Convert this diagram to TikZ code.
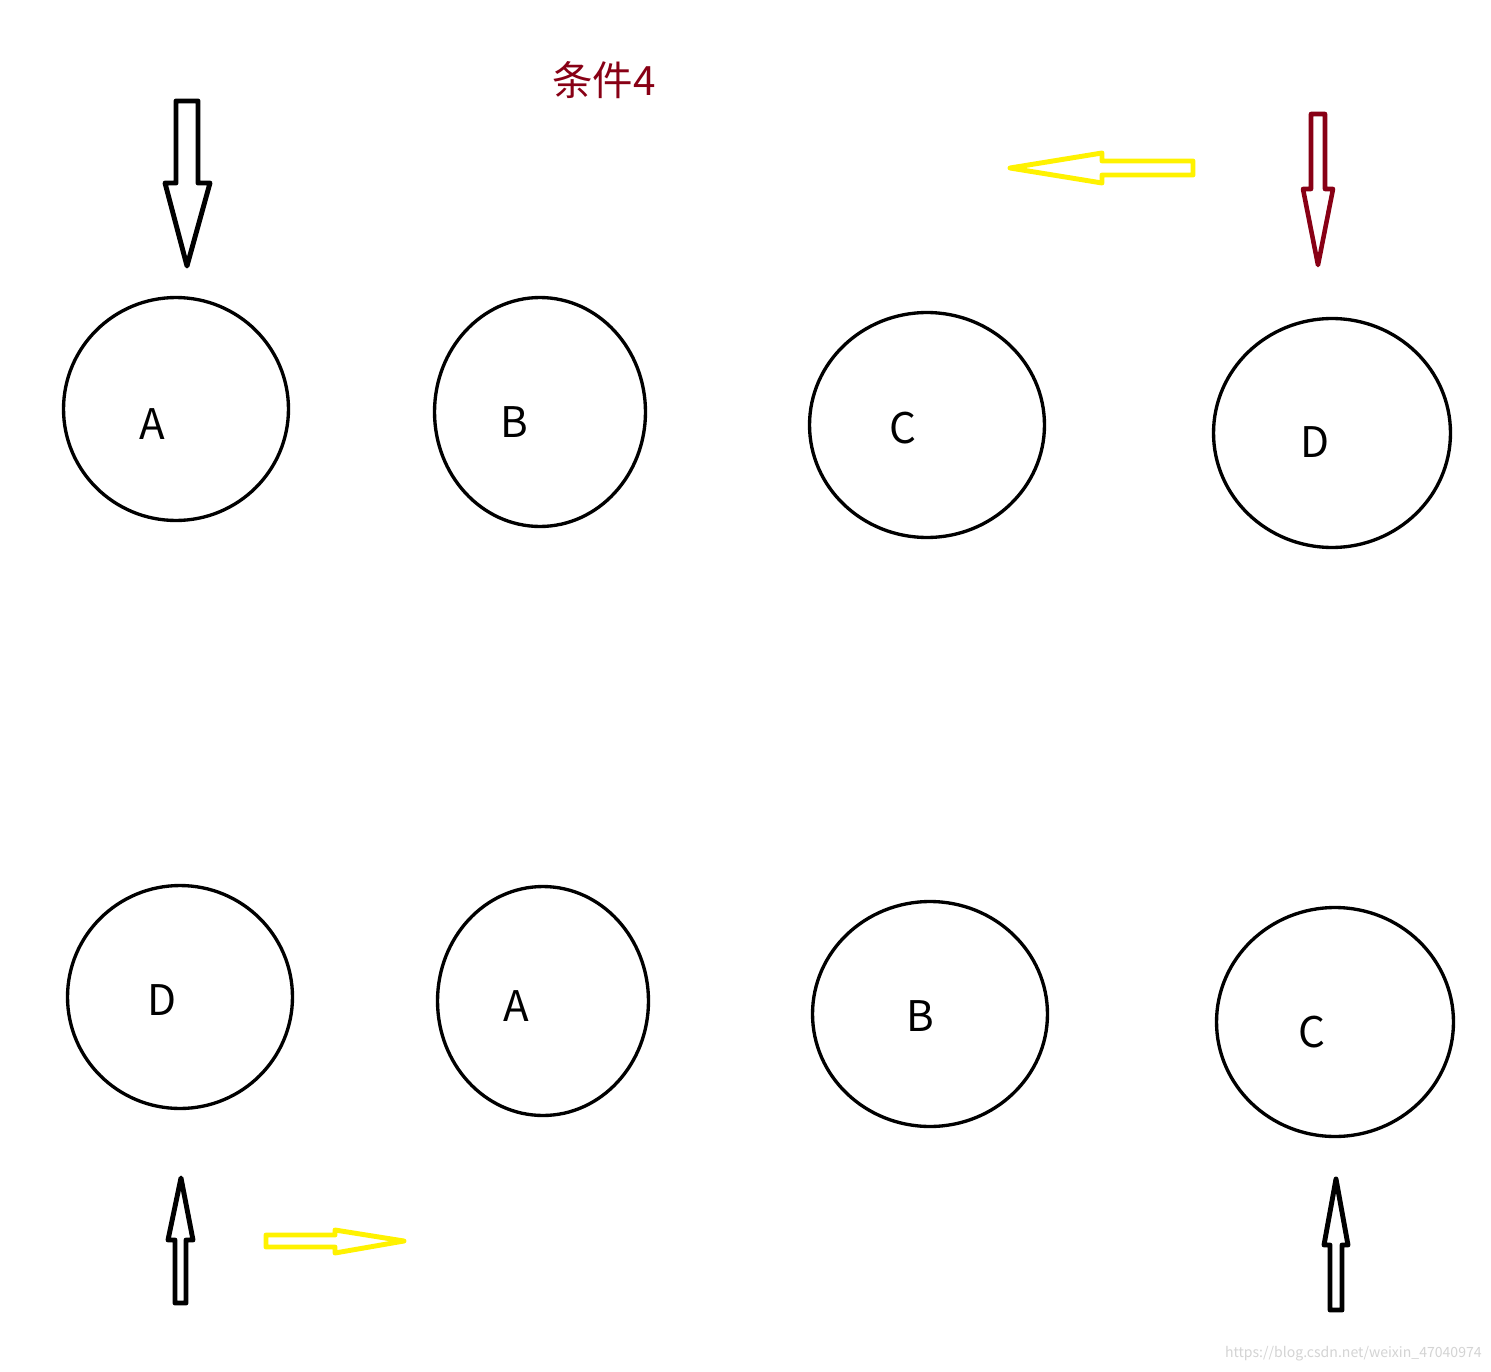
\documentclass[tikz,border=0pt]{standalone}
\usepackage{fontspec}
\setmainfont{Noto Sans CJK SC}
\usepackage{xcolor}
\usepackage{tikz}
\usetikzlibrary{shapes.geometric}
\definecolor{bg}{HTML}{FFFFFF}
\definecolor{ink}{HTML}{000000}
\definecolor{darkred}{HTML}{880015}
\definecolor{yel}{HTML}{FFF200}
\definecolor{mark}{HTML}{D4D4D4}
\tikzset{
  ball/.style={draw=ink, line width=1.9pt, ellipse, inner sep=0pt, outer sep=0pt},
  lab/.style={text=ink, font=\fontsize{24}{28}\selectfont, inner sep=0pt},
  blk/.style={draw=ink, line width=2.8pt, line join=round, line cap=round},
  red/.style={draw=darkred, line width=2.6pt, line join=round, line cap=round},
  yel/.style={draw=yel, line width=2.8pt, line join=round, line cap=round},
  title/.style={text=darkred, font=\fontsize{23}{27}\selectfont, inner sep=0pt},
  wmark/.style={text=mark, font=\fontsize{8}{10}\selectfont, inner sep=0pt, anchor=east},
}
\begin{document}
\begin{tikzpicture}[x=0.02cm, y=-0.02cm]
  \useasboundingbox[fill=bg] (0,0) rectangle (1491,1372);
  % title
  \node[title] (t) at (604,80) {条件4};
  % top row
  \node[ball, minimum width=4.50cm, minimum height=4.46cm] (a1) at (176,409) {};
  \node[ball, minimum width=4.22cm, minimum height=4.58cm] (b1) at (540,412) {};
  \node[ball, minimum width=4.70cm, minimum height=4.50cm] (c1) at (927,425) {};
  \node[ball, minimum width=4.74cm, minimum height=4.58cm] (d1) at (1332,433) {};
  \node[lab] (la1) at (152,424) {A};
  \node[lab] (lb1) at (514,422) {B};
  \node[lab] (lc1) at (903,428) {C};
  \node[lab] (ld1) at (1315,442) {D};
  % bottom row
  \node[ball, minimum width=4.50cm, minimum height=4.46cm] (d2) at (180,997) {};
  \node[ball, minimum width=4.22cm, minimum height=4.58cm] (a2) at (543,1001) {};
  \node[ball, minimum width=4.70cm, minimum height=4.50cm] (b2) at (930,1014) {};
  \node[ball, minimum width=4.74cm, minimum height=4.58cm] (c2) at (1335,1022) {};
  \node[lab] (ld2) at (162,1000) {D};
  \node[lab] (la2) at (516,1006) {A};
  \node[lab] (lb2) at (920,1016) {B};
  \node[lab] (lc2) at (1312,1032) {C};
  % arrows
  \draw[blk] (176,101) -- (198,101) -- (198,183) -- (210,183) -- (187,266)
    -- (165,183) -- (176,183) -- cycle;
  \draw[red] (1311,114) -- (1325,114) -- (1325,189) -- (1333,189) -- (1318,265)
    -- (1303,189) -- (1311,189) -- cycle;
  \draw[yel] (1193,161) -- (1102,161) -- (1102,153) -- (1010,168) -- (1102,183)
    -- (1102,175) -- (1193,175) -- cycle;
  \draw[blk] (175,1303) -- (186,1303) -- (186,1240) -- (193,1240) -- (181,1178)
    -- (168,1240) -- (175,1240) -- cycle;
  \draw[yel] (266,1235) -- (335,1235) -- (335,1230) -- (404,1241) -- (335,1253)
    -- (335,1247) -- (266,1247) -- cycle;
  \draw[blk] (1330,1310) -- (1342,1310) -- (1342,1245) -- (1348,1245) -- (1336,1179)
    -- (1324,1245) -- (1330,1245) -- cycle;
  % watermark
  \node[wmark] (w) at (1482,1354) {https://blog.csdn.net/weixin\_47040974};
\end{tikzpicture}
\end{document}
